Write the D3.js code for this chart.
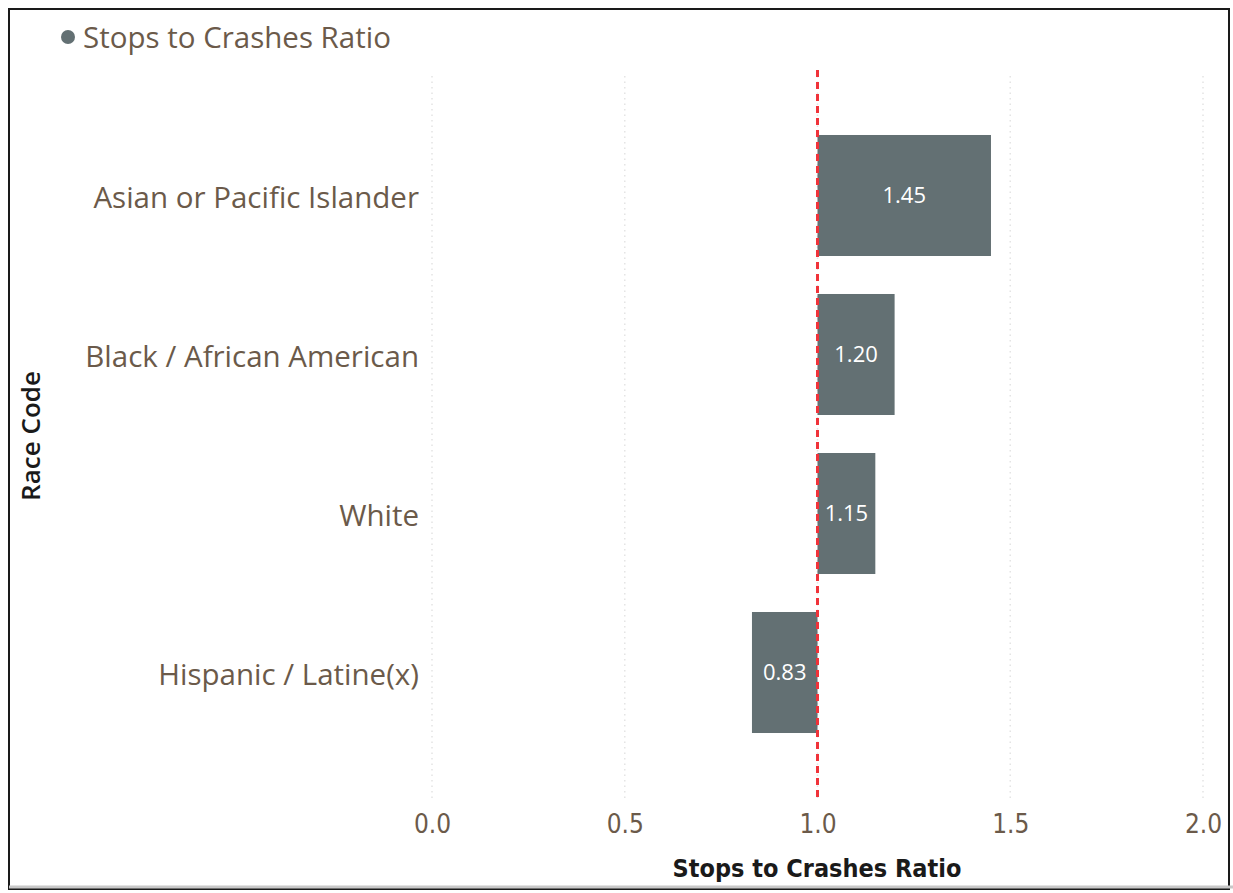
<!DOCTYPE html>
<html>
<head>
<meta charset="utf-8">
<script src="https://cdn.jsdelivr.net/npm/d3@7/dist/d3.min.js"></script>
<style>
  html, body { margin: 0; padding: 0; background: #fff; }
  svg { display: block; }
</style>
</head>
<body>
<svg id="chart" width="1233" height="893"></svg>
<script>
// Stops-to-crashes ratio by race, bars drawn from the parity line at 1.0
const categories = ["Asian or Pacific Islander", "Black / African American", "White", "Hispanic / Latine(x)"];
const ratios = [1.45, 1.20, 1.15, 0.83];
const labels = ["1.45", "1.20", "1.15", "0.83"];
const xTicks = [0, 0.5, 1, 1.5, 2];
const referenceValue = 1.0;

const svg = d3.select("#chart");

const labelColor = "#6b5a4a";
const barColor = "#637073";

// frame
svg.append("rect").attr("x", 9).attr("y", 9).attr("width", 1220).attr("height", 880)
  .attr("fill", "none").attr("stroke", "#1a1a1a").attr("stroke-width", 2);
svg.append("line").attr("x1", 9).attr("x2", 1233).attr("y1", 887).attr("y2", 887)
  .attr("stroke", "#c8c8c8").attr("stroke-width", 3);

const x = d3.scaleLinear().domain([0, 2]).range([432, 1203]);
const y = d3.scaleBand().domain(categories).range([76, 792])
  .paddingInner(0.239).paddingOuter(0.371);

// gridlines
svg.append("g").selectAll("line").data(xTicks).join("line")
  .attr("x1", d => x(d)).attr("x2", d => x(d))
  .attr("y1", 76).attr("y2", 802)
  .attr("stroke", "#e4e4e4").attr("stroke-width", 1.5)
  .attr("stroke-dasharray", "1.5,4");

// bars from the reference value
const data = categories.map((c, i) => ({ c, v: ratios[i], t: labels[i] }));
svg.append("g").selectAll("rect").data(data).join("rect")
  .attr("x", d => Math.min(x(d.v), x(referenceValue)))
  .attr("width", d => Math.abs(x(d.v) - x(referenceValue)))
  .attr("y", d => y(d.c))
  .attr("height", y.bandwidth())
  .attr("fill", barColor);

// value labels
svg.append("g").selectAll("text").data(data).join("text")
  .attr("x", d => (x(d.v) + x(referenceValue)) / 2)
  .attr("y", d => y(d.c) + y.bandwidth() / 2)
  .attr("dy", "0.35em")
  .attr("text-anchor", "middle")
  .attr("font-family", "'Segoe UI', 'Open Sans', sans-serif")
  .attr("font-size", 22)
  .attr("fill", "#ffffff")
  .text(d => d.t);

// reference line at 1.0
svg.append("line")
  .attr("x1", x(referenceValue)).attr("x2", x(referenceValue))
  .attr("y1", 70).attr("y2", 802)
  .attr("stroke", "#f0333a").attr("stroke-width", 3)
  .attr("stroke-dasharray", "7,5");

// y axis category labels
const yAxis = d3.axisLeft(y).tickSize(0).tickPadding(0);
const yg = svg.append("g").attr("transform", "translate(419,0)").call(yAxis);
yg.select(".domain").remove();
yg.selectAll("text")
  .attr("font-family", "'Segoe UI', 'Open Sans', sans-serif")
  .attr("font-size", 29.5)
  .attr("dy", "0.42em")
  .attr("fill", labelColor);

// x axis tick labels
const xAxis = d3.axisBottom(x).tickValues(xTicks).tickFormat(d3.format(".1f")).tickSize(0).tickPadding(0);
const xg = svg.append("g").attr("transform", "translate(0,815)").call(xAxis);
xg.select(".domain").remove();
xg.selectAll("text")
  .attr("font-family", "'DejaVu Sans Condensed', 'DejaVu Sans', sans-serif")
  .attr("font-size", 26)
  .attr("font-stretch", "condensed")
  .attr("fill", labelColor);

// axis titles
svg.append("text")
  .attr("x", 817).attr("y", 877)
  .attr("text-anchor", "middle")
  .attr("font-family", "'DejaVu Sans Condensed', 'DejaVu Sans', sans-serif")
  .attr("font-stretch", "condensed")
  .attr("font-weight", 600)
  .attr("font-size", 25)
  .attr("fill", "#1a1a1a")
  .text("Stops to Crashes Ratio");

svg.append("text")
  .attr("transform", "translate(40,436) rotate(-90)")
  .attr("text-anchor", "middle")
  .attr("font-family", "'Segoe UI', 'Open Sans', sans-serif")
  .attr("font-weight", 600)
  .attr("font-size", 26)
  .attr("fill", "#1a1a1a")
  .text("Race Code");

// legend
svg.append("circle").attr("cx", 68).attr("cy", 37).attr("r", 7).attr("fill", barColor);
svg.append("text")
  .attr("x", 83).attr("y", 37).attr("dy", "0.38em")
  .attr("font-family", "'Segoe UI', 'Open Sans', sans-serif")
  .attr("font-size", 29.5)
  .attr("fill", labelColor)
  .text("Stops to Crashes Ratio");
</script>
</body>
</html>
